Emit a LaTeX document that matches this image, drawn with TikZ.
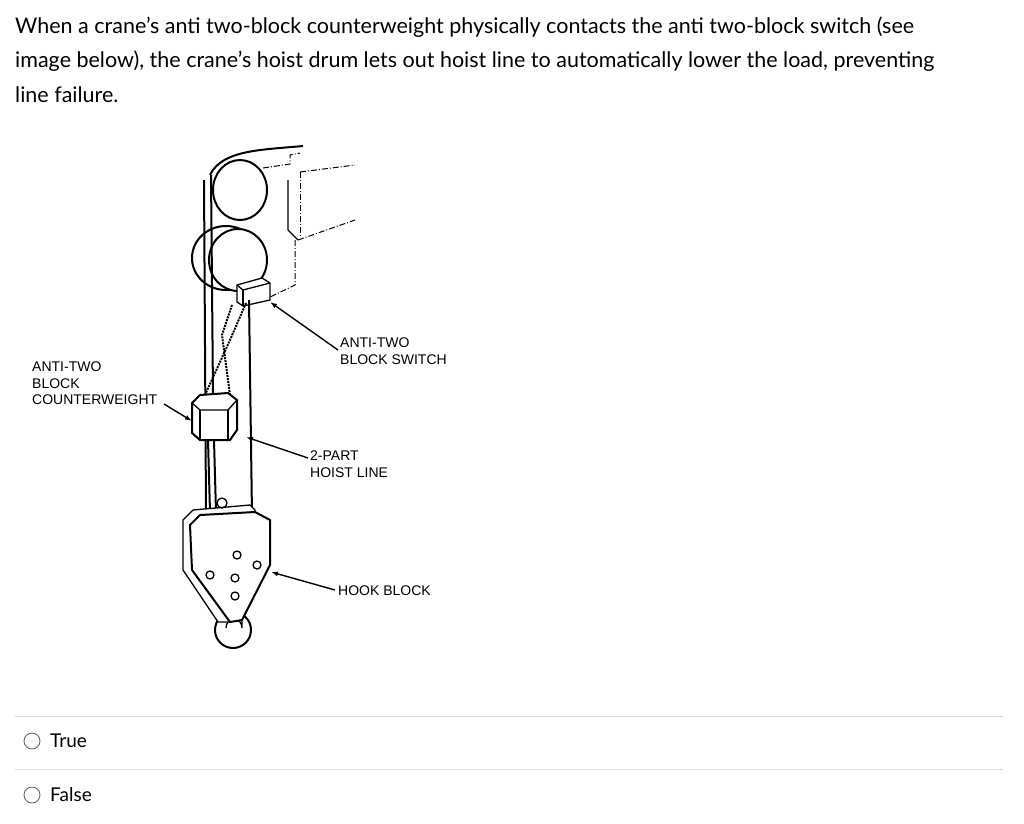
\documentclass[tikz,border=0pt]{standalone}
\usepackage{fontspec}
\setmainfont{Lato}
\newfontfamily\labfont{Liberation Sans}
\usetikzlibrary{arrows.meta}
\begin{document}
\begin{tikzpicture}[x=1pt,y=-1pt,
  q/.style={anchor=west,inner sep=0pt,font=\fontsize{21.5}{21.5}\selectfont},
  o/.style={anchor=west,inner sep=0pt,font=\fontsize{19}{19}\selectfont},
  lab/.style={anchor=north west,inner sep=0pt,align=left,font=\labfont\fontsize{14}{16.5}\selectfont},
  ln/.style={line width=2pt},
  thin/.style={line width=1.3pt},
  dd/.style={line width=1pt,dash pattern=on 6pt off 2pt on 1pt off 2pt},
  ptr/.style={line width=1.4pt,-{Latex[length=7pt,width=5pt]}},
  sep/.style={draw=black!15,line width=0.8pt}]
\useasboundingbox (0,0) rectangle (1024,823);
\fill[white] (0,0) rectangle (1024,823);
\node[q] (l1) at (15,27) {When a crane’s anti two-block counterweight physically contacts the anti two-block switch (see};
\node[q] (l2) at (15,61) {image below), the crane’s hoist drum lets out hoist line to automatically lower the load, preventing};
\node[q] (l3) at (15,95) {line failure.};
% crane boom head
\draw[ln] (210,175) .. controls (222,150) and (260,150) .. (303,146);
\draw[dd] (263,168) -- (290,164) -- (290,155) -- (300,153);
\draw[dd] (300,172) -- (355,165);
\draw[dd] (300,172) -- (300,236);
\draw[thin] (288,180) -- (288,230) -- (298,240);
\draw[dd] (298,240) -- (355,220);
\draw[dd] (295,240) -- (295,285) -- (268,298);
% sheaves
\draw[ln] (240,190) ellipse (27 and 30);
\draw[ln] (226,258) ellipse (34 and 32);
\draw[ln,fill=white] (238,260) ellipse (29 and 31);
% switch
\draw[thin,fill=white] (237,285) -- (262,278) -- (270,283) -- (270,300) -- (243,306) -- (237,302) -- cycle;
\draw[thin] (237,285) -- (243,290) -- (270,283);
\draw[thin] (243,290) -- (243,306);
% ropes
\draw[ln] (204,180) -- (206,512);
\draw[ln] (211,175) -- (213,395);
\draw[ln] (249,300) -- (252,515);
% chains
\draw[densely dotted,line width=2pt] (246,303) -- (230,340) -- (205,395);
\draw[densely dotted,line width=2pt] (232,305) -- (222,335) -- (230,395);
% counterweight
\draw[ln,fill=white] (192,403) -- (200,395) -- (228,393) -- (237,400) -- (237,430) -- (230,440) -- (200,440) -- (192,433) -- cycle;
\draw[thin] (192,403) -- (200,410) -- (228,410) -- (237,400);
\draw[thin] (200,410) -- (200,440);
\draw[thin] (228,410) -- (228,440);
\draw[ln] (208,440) -- (210,512);
\draw[ln] (214,440) -- (216,512);
% hook
\draw[ln,fill=white] (233,630) circle (18);
\draw[thin,fill=white] (226,628) arc (180:360:8 and 9) -- (242,620);
% hook block
\draw[thin,fill=white] (183,520) -- (193,510) -- (250,505) -- (255,510) -- (255,520) -- (230,622) -- (218,622) -- (183,570) -- cycle;
\draw[ln,fill=white] (190,525) -- (200,515) -- (255,512) -- (270,520) -- (270,565) -- (242,620) -- (230,622) -- (192,570) -- cycle;
\draw[thin] (222,503) circle (5);
\foreach \p in {(237,555),(257,565),(210,575),(235,578),(235,596)}{\draw[thin] \p circle (4);}
% labels
\node[lab] (cw) at (32,362) {ANTI-TWO\\BLOCK\\COUNTERWEIGHT};
\node[lab] (sw) at (340,338) {ANTI-TWO\\BLOCK SWITCH};
\node[lab] (hl) at (310,451) {2-PART\\HOIST LINE};
\node[lab] (hb) at (338,586) {HOOK BLOCK};
\coordinate (cwe) at (164,404);
\coordinate (swe) at (338,350);
\coordinate (hle) at (308,458);
\coordinate (hbe) at (335,590);
\coordinate (cwt) at (192,421);
\coordinate (swt) at (270,302);
\coordinate (hlt) at (246,437);
\coordinate (hbt) at (271,572);
\draw[ptr] (cwe) -- (cwt);
\draw[ptr] (swe) -- (swt);
\draw[ptr] (hle) -- (hlt);
\draw[ptr] (hbe) -- (hbt);
% options
\draw[sep] (15,716) -- (1003,716);
\draw[sep] (15,769) -- (1003,769);
\draw[black!60,line width=0.9pt] (32,741) circle (8);
\draw[black!60,line width=0.9pt] (32,795) circle (8);
\node[o] (t) at (50,741) {True};
\node[o] (f) at (50,795) {False};
\end{tikzpicture}
\end{document}
